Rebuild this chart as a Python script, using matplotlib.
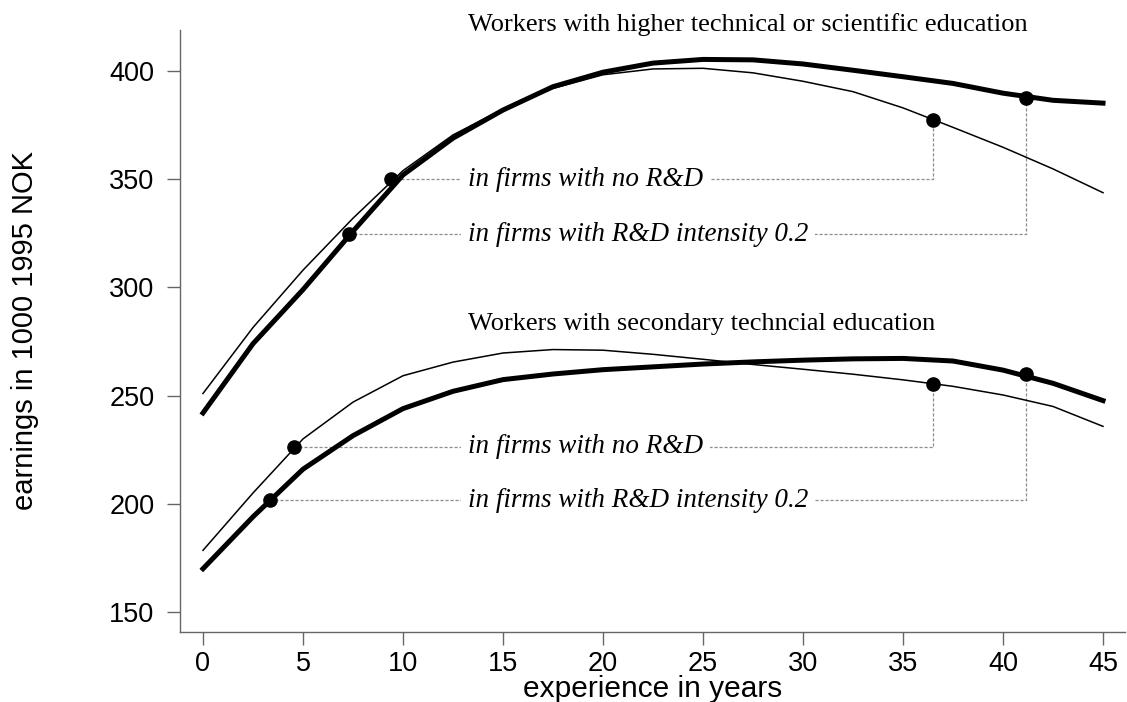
import matplotlib
matplotlib.use("Agg")
import matplotlib.pyplot as plt

# ---- data ----
experience = [0, 2.5, 5, 7.5, 10, 12.5, 15, 17.5, 20, 22.5, 25, 27.5, 30, 32.5, 35, 37.5, 40, 42.5, 45]

higher_no_rd = [251, 281.5, 308, 332, 354, 370.5, 382.5, 392, 398.3, 401, 401.3, 399.2, 395.3, 390.5,
                383, 374, 364.8, 354.8, 343.8]
higher_rd02 = [242, 274, 299, 326, 352, 369, 382, 392.8, 399.5, 403.7, 405.4, 405.2, 403.3, 400.4,
               397.4, 394.3, 389.8, 386.5, 385.2]
secondary_no_rd = [178.5, 205, 230, 247, 259.2, 265.5, 269.7, 271.3, 271, 269.1, 266.8, 264.4, 262.2,
                   259.9, 257.3, 254.3, 250.3, 245, 235.8]
secondary_rd02 = [170, 194, 216, 231.5, 244, 252, 257.4, 260, 262, 263.3, 264.6, 265.6, 266.4, 267,
                  267.2, 266, 261.8, 255.7, 247.7]

# marker points (x, y) for each curve: left marker and right marker
higher_no_rd_pts_x = [9.4, 36.5]
higher_no_rd_pts_y = [350, 377.3]
higher_rd02_pts_x = [7.3, 41.15]
higher_rd02_pts_y = [324.6, 387.8]
secondary_no_rd_pts_x = [4.57, 36.5]
secondary_no_rd_pts_y = [226.3, 255.6]
secondary_rd02_pts_x = [3.35, 41.15]
secondary_rd02_pts_y = [201.7, 259.8]

label_no_rd = "in firms with no R&D"
label_rd02 = "in firms with R&D intensity 0.2"
title_higher = "Workers with higher technical or scientific education"
title_secondary = "Workers with secondary techncial education"

x_ticks = [0, 5, 10, 15, 20, 25, 30, 35, 40, 45]
y_ticks = [150, 200, 250, 300, 350, 400]

# ---- figure ----
W, H = 1127, 702
fig = plt.figure(figsize=(W / 100, H / 100), dpi=100)
ax_l, ax_r, ax_t, ax_b = 180, 1125, 30, 632
ax = fig.add_axes([ax_l / W, (H - ax_b) / H, (ax_r - ax_l) / W, (ax_b - ax_t) / H])
ax.set_xlim(-1.15, 46.1)
ax.set_ylim(140.75, 419)

for s in ("top", "right"):
    ax.spines[s].set_visible(False)
for s in ("left", "bottom"):
    ax.spines[s].set_color("#666666")
    ax.spines[s].set_linewidth(1.0)

ax.set_xticks(x_ticks)
ax.set_yticks(y_ticks)
ax.tick_params(axis="both", length=9.5, width=1.0, color="#666666", labelsize=19.5)
ax.tick_params(axis="x", pad=4)
ax.tick_params(axis="y", pad=9)
for lab in ax.get_xticklabels() + ax.get_yticklabels():
    lab.set_family("Liberation Sans")

ax.set_xlabel("experience in years", family="Liberation Sans", fontsize=21.5, va="center")
ax.xaxis.set_label_coords(0.5, -(689 - ax_b) / (ax_b - ax_t))
ax.set_ylabel("earnings in 1000 1995 NOK", family="Liberation Sans", fontsize=21, va="center")
ax.yaxis.set_label_coords(-(ax_l - 25) / (ax_r - ax_l), 0.5)

# curves
ax.plot(experience, higher_no_rd, color="black", lw=1.1, zorder=3)
ax.plot(experience, higher_rd02, color="black", lw=3.6, zorder=3)
ax.plot(experience, secondary_no_rd, color="black", lw=1.1, zorder=3)
ax.plot(experience, secondary_rd02, color="black", lw=3.6, zorder=3)

# markers
for px, py in [(higher_no_rd_pts_x, higher_no_rd_pts_y), (higher_rd02_pts_x, higher_rd02_pts_y),
               (secondary_no_rd_pts_x, secondary_no_rd_pts_y), (secondary_rd02_pts_x, secondary_rd02_pts_y)]:
    ax.plot(px, py, "o", color="black", ms=9.5, zorder=5)

# leader lines + labels
text_x = 13.25
leader_kw = dict(color="#8c8c8c", lw=0.9, linestyle=(0, (2.5, 1.5)), zorder=2)
for (px, py, label) in [(higher_no_rd_pts_x, higher_no_rd_pts_y, label_no_rd),
                        (higher_rd02_pts_x, higher_rd02_pts_y, label_rd02),
                        (secondary_no_rd_pts_x, secondary_no_rd_pts_y, label_no_rd),
                        (secondary_rd02_pts_x, secondary_rd02_pts_y, label_rd02)]:
    ax.plot([px[0], px[1], px[1]], [py[0], py[0], py[1]], **leader_kw)
    ax.text(text_x, py[0], label, family="Liberation Serif", style="italic", fontsize=19.5,
            ha="left", va="center", zorder=4,
            bbox=dict(boxstyle="square,pad=0.25", fc="white", ec="none"))

ax.text(text_x, 421.5, title_higher, family="Liberation Serif", fontsize=19, ha="left", va="center")
ax.text(text_x, 283.0, title_secondary, family="Liberation Serif", fontsize=19, ha="left", va="center")

fig.savefig("out.png", dpi=100)
